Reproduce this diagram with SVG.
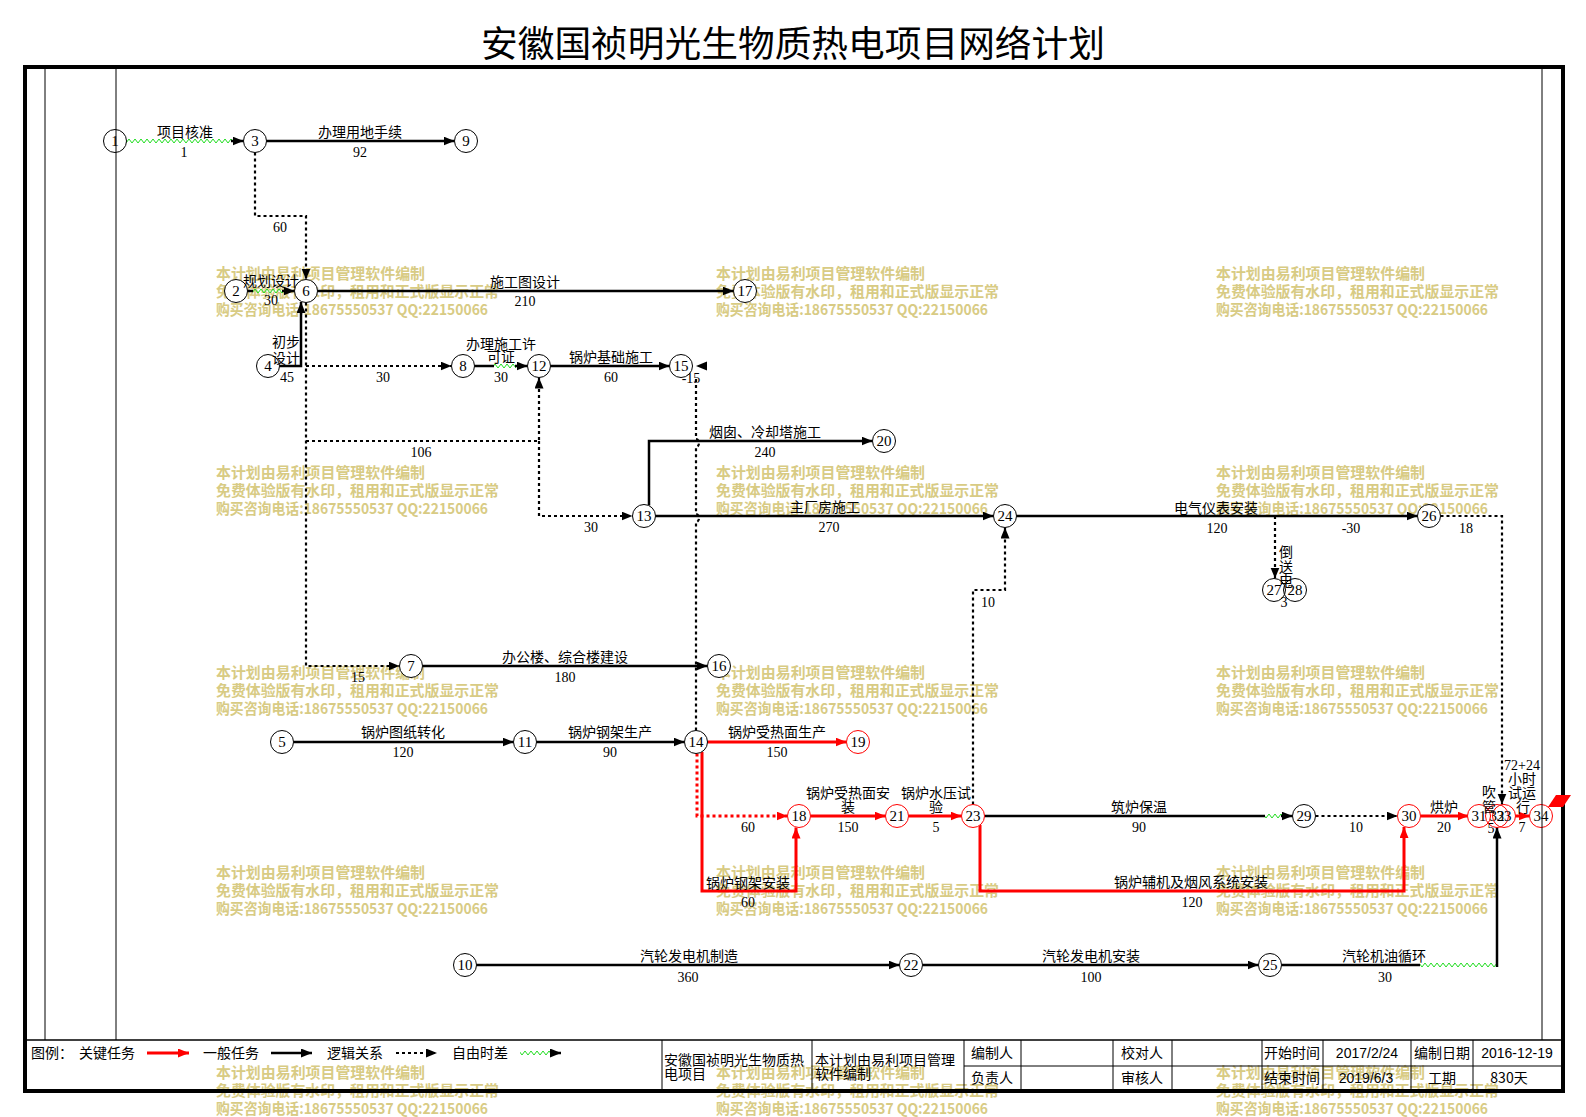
<svg xmlns="http://www.w3.org/2000/svg" width="1586" height="1117" viewBox="0 0 1586 1117">
<defs>
<style>
text{font-family:"Noto Sans CJK SC","Noto Sans CJK JP",sans-serif;}
.t{font-size:14px;text-anchor:middle;fill:#000}
.n{font-family:"Liberation Serif",serif;font-size:14px;text-anchor:middle;fill:#000}
.wm{font-size:15px;font-weight:bold;fill:#d8cb84}
.nd circle{fill:#fff;stroke:#000;stroke-width:1}
.cr circle{stroke:#f00}
.nd text{font-family:"Liberation Serif",serif;font-size:15px;text-anchor:middle;fill:#000}
.s{fill:none;stroke:#000;stroke-width:2.5}
.r{fill:none;stroke:#f00;stroke-width:3}
.d{fill:none;stroke:#000;stroke-width:2.2;stroke-dasharray:3 3}
.rd{fill:none;stroke:#f00;stroke-width:3;stroke-dasharray:3 3}
.ab{marker-end:url(#ab)}
.ar{marker-end:url(#ar)}
.tb{font-size:14px;fill:#000}
.dt{font-family:"Liberation Sans",sans-serif;font-size:14px;fill:#000;text-anchor:middle}
.fr{fill:none;stroke:#000}
.zz{fill:url(#zz)}
</style>
<marker id="ab" markerUnits="userSpaceOnUse" markerWidth="12" markerHeight="10" refX="11" refY="4.5" orient="auto"><path d="M0,0L11,4.5L0,9z" fill="#000"/></marker>
<marker id="ar" markerUnits="userSpaceOnUse" markerWidth="12" markerHeight="10" refX="11" refY="4.5" orient="auto"><path d="M0,0L11,4.5L0,9z" fill="#f00"/></marker>
<pattern id="zz" patternUnits="userSpaceOnUse" x="0" y="-4" width="6" height="8"><polyline points="0,6 3,2 6,6" fill="none" stroke="#1edc1e" stroke-width="1"/></pattern>
</defs>
<rect width="1586" height="1117" fill="#fff"/>

<g id="watermark" class="wm">
<text x="216" y="279" textLength="209" lengthAdjust="spacingAndGlyphs">本计划由易利项目管理软件编制</text>
<text x="216" y="297" textLength="283" lengthAdjust="spacingAndGlyphs">免费体验版有水印，租用和正式版显示正常</text>
<text x="216" y="315" textLength="272" lengthAdjust="spacingAndGlyphs">购买咨询电话:18675550537 QQ:22150066</text>
<text x="716" y="279" textLength="209" lengthAdjust="spacingAndGlyphs">本计划由易利项目管理软件编制</text>
<text x="716" y="297" textLength="283" lengthAdjust="spacingAndGlyphs">免费体验版有水印，租用和正式版显示正常</text>
<text x="716" y="315" textLength="272" lengthAdjust="spacingAndGlyphs">购买咨询电话:18675550537 QQ:22150066</text>
<text x="1216" y="279" textLength="209" lengthAdjust="spacingAndGlyphs">本计划由易利项目管理软件编制</text>
<text x="1216" y="297" textLength="283" lengthAdjust="spacingAndGlyphs">免费体验版有水印，租用和正式版显示正常</text>
<text x="1216" y="315" textLength="272" lengthAdjust="spacingAndGlyphs">购买咨询电话:18675550537 QQ:22150066</text>
<text x="216" y="478" textLength="209" lengthAdjust="spacingAndGlyphs">本计划由易利项目管理软件编制</text>
<text x="216" y="496" textLength="283" lengthAdjust="spacingAndGlyphs">免费体验版有水印，租用和正式版显示正常</text>
<text x="216" y="514" textLength="272" lengthAdjust="spacingAndGlyphs">购买咨询电话:18675550537 QQ:22150066</text>
<text x="716" y="478" textLength="209" lengthAdjust="spacingAndGlyphs">本计划由易利项目管理软件编制</text>
<text x="716" y="496" textLength="283" lengthAdjust="spacingAndGlyphs">免费体验版有水印，租用和正式版显示正常</text>
<text x="716" y="514" textLength="272" lengthAdjust="spacingAndGlyphs">购买咨询电话:18675550537 QQ:22150066</text>
<text x="1216" y="478" textLength="209" lengthAdjust="spacingAndGlyphs">本计划由易利项目管理软件编制</text>
<text x="1216" y="496" textLength="283" lengthAdjust="spacingAndGlyphs">免费体验版有水印，租用和正式版显示正常</text>
<text x="1216" y="514" textLength="272" lengthAdjust="spacingAndGlyphs">购买咨询电话:18675550537 QQ:22150066</text>
<text x="216" y="678" textLength="209" lengthAdjust="spacingAndGlyphs">本计划由易利项目管理软件编制</text>
<text x="216" y="696" textLength="283" lengthAdjust="spacingAndGlyphs">免费体验版有水印，租用和正式版显示正常</text>
<text x="216" y="714" textLength="272" lengthAdjust="spacingAndGlyphs">购买咨询电话:18675550537 QQ:22150066</text>
<text x="716" y="678" textLength="209" lengthAdjust="spacingAndGlyphs">本计划由易利项目管理软件编制</text>
<text x="716" y="696" textLength="283" lengthAdjust="spacingAndGlyphs">免费体验版有水印，租用和正式版显示正常</text>
<text x="716" y="714" textLength="272" lengthAdjust="spacingAndGlyphs">购买咨询电话:18675550537 QQ:22150066</text>
<text x="1216" y="678" textLength="209" lengthAdjust="spacingAndGlyphs">本计划由易利项目管理软件编制</text>
<text x="1216" y="696" textLength="283" lengthAdjust="spacingAndGlyphs">免费体验版有水印，租用和正式版显示正常</text>
<text x="1216" y="714" textLength="272" lengthAdjust="spacingAndGlyphs">购买咨询电话:18675550537 QQ:22150066</text>
<text x="216" y="878" textLength="209" lengthAdjust="spacingAndGlyphs">本计划由易利项目管理软件编制</text>
<text x="216" y="896" textLength="283" lengthAdjust="spacingAndGlyphs">免费体验版有水印，租用和正式版显示正常</text>
<text x="216" y="914" textLength="272" lengthAdjust="spacingAndGlyphs">购买咨询电话:18675550537 QQ:22150066</text>
<text x="716" y="878" textLength="209" lengthAdjust="spacingAndGlyphs">本计划由易利项目管理软件编制</text>
<text x="716" y="896" textLength="283" lengthAdjust="spacingAndGlyphs">免费体验版有水印，租用和正式版显示正常</text>
<text x="716" y="914" textLength="272" lengthAdjust="spacingAndGlyphs">购买咨询电话:18675550537 QQ:22150066</text>
<text x="1216" y="878" textLength="209" lengthAdjust="spacingAndGlyphs">本计划由易利项目管理软件编制</text>
<text x="1216" y="896" textLength="283" lengthAdjust="spacingAndGlyphs">免费体验版有水印，租用和正式版显示正常</text>
<text x="1216" y="914" textLength="272" lengthAdjust="spacingAndGlyphs">购买咨询电话:18675550537 QQ:22150066</text>
<text x="216" y="1078" textLength="209" lengthAdjust="spacingAndGlyphs">本计划由易利项目管理软件编制</text>
<text x="216" y="1096" textLength="283" lengthAdjust="spacingAndGlyphs">免费体验版有水印，租用和正式版显示正常</text>
<text x="216" y="1114" textLength="272" lengthAdjust="spacingAndGlyphs">购买咨询电话:18675550537 QQ:22150066</text>
<text x="716" y="1078" textLength="209" lengthAdjust="spacingAndGlyphs">本计划由易利项目管理软件编制</text>
<text x="716" y="1096" textLength="283" lengthAdjust="spacingAndGlyphs">免费体验版有水印，租用和正式版显示正常</text>
<text x="716" y="1114" textLength="272" lengthAdjust="spacingAndGlyphs">购买咨询电话:18675550537 QQ:22150066</text>
<text x="1216" y="1078" textLength="209" lengthAdjust="spacingAndGlyphs">本计划由易利项目管理软件编制</text>
<text x="1216" y="1096" textLength="283" lengthAdjust="spacingAndGlyphs">免费体验版有水印，租用和正式版显示正常</text>
<text x="1216" y="1114" textLength="272" lengthAdjust="spacingAndGlyphs">购买咨询电话:18675550537 QQ:22150066</text>
</g>

<text id="title" x="793" y="57" font-size="36" text-anchor="middle" textLength="624" lengthAdjust="spacingAndGlyphs" fill="#000">安徽国祯明光生物质热电项目网络计划</text>

<g id="connectors">
<!-- 1->3 free float -->
<path class="s" d="M117,141H126" stroke-width="2"/>
<rect class="zz" x="126" y="-4" width="106" height="8" transform="translate(0,141)"/>
<path class="s ab" d="M231,141H243.5"/>
<!-- 3->9 -->
<path class="s ab" d="M266.5,141H454.5"/>
<!-- 3->6 logic -->
<path class="d ab" d="M255,152.5V216H306V279.5"/>
<!-- 2->6 -->
<path class="s" d="M247.5,291H253"/>
<rect class="zz" x="253" y="-4" width="30" height="8" transform="translate(0,291)"/>
<path class="s ab" d="M282,291H294.5"/>
<!-- 6->17 -->
<path class="s ab" d="M317.5,291H733.5"/>
<!-- 4->6 -->
<path class="s ab" d="M279.5,366H301V302"/>
<!-- logic from 6 downward -->
<path class="d ab" d="M306,302.5V666H399.5"/>
<path class="d ab" d="M306,366H451.5"/>
<path class="d ab" d="M306,441H539V377.5"/>
<path class="d ab" d="M539,441V516H632.5"/>
<!-- 8->12 -->
<path class="s" d="M474.5,366H494"/>
<rect class="zz" x="494" y="-4" width="22" height="8" transform="translate(0,366)"/>
<path class="s ab" d="M515,366H527.5"/>
<!-- 12->15 -->
<path class="s ab" d="M550.5,366H669.5"/>
<!-- 14->15 logic (negative) -->
<path class="d" d="M696,730.5V522a3,4 0 0 0 0,-8V447a3,4 0 0 0 0,-8V378"/>
<polygon points="696,366 707,361.5 707,370.5" fill="#000"/>
<!-- 13->20 -->
<path class="s ab" d="M649,505.5V441H872.5"/>
<!-- 13->24 -->
<path class="s ab" d="M655.5,516H993.5"/>
<!-- 24->26 -->
<path class="s ab" d="M1016.5,516H1417.5"/>
<!-- 23->24 logic -->
<path class="d ab" d="M973,804.5V590H1005V527.5"/>
<!-- to 27 -->
<path class="d ab" d="M1275,516V578.5"/>
<!-- 26->33 logic -->
<path class="d ab" d="M1440.5,516H1502V804.5"/>
<!-- 7->16 -->
<path class="s ab" d="M422.5,666H707.5"/>
<!-- 5->11 -->
<path class="s ab" d="M293.5,742H513.5"/>
<!-- 11->14 -->
<path class="s ab" d="M536.5,742H684.5"/>
<!-- critical -->
<path class="r ar" d="M707.5,742H846.5"/>
<path class="r ar" d="M702,752V891H796V827.5"/>
<path class="rd ar" d="M697,753.5V816H787.5"/>
<path class="r ar" d="M810.5,816H885.5"/>
<path class="r ar" d="M908.5,816H961.5"/>
<path class="r ar" d="M980,825V891H1404V827"/>
<!-- 23->29 -->
<path class="s" d="M984.5,816H1265"/>
<rect class="zz" x="1265" y="-4" width="17" height="8" transform="translate(0,816)"/>
<path class="s ab" d="M1281,816H1292.5"/>
<!-- 29->30 logic -->
<path class="d ab" d="M1315.5,816H1397.5"/>
<path class="r ar" d="M1420.5,816H1468.5"/>
<path class="r ar" d="M1482,816H1491"/>
<path class="r ar" d="M1515.5,816H1529.5"/>
<!-- 10->22->25->32 -->
<path class="s ab" d="M476.5,965H899.5"/>
<path class="s ab" d="M922.5,965H1258.5"/>
<path class="s" d="M1281.5,965H1420"/>
<rect class="zz" x="1420" y="-4" width="77" height="8" transform="translate(0,965)"/>
<path class="s ab" d="M1497,967V827.5" stroke-width="2"/>
</g>

<g id="nodes">
<g id="n1" class="nd"><circle cx="115" cy="141" r="11.5"/><text x="115" y="146">1</text></g>
<g id="n3" class="nd"><circle cx="255" cy="141" r="11.5"/><text x="255" y="146">3</text></g>
<g id="n9" class="nd"><circle cx="466" cy="141" r="11.5"/><text x="466" y="146">9</text></g>
<g id="n2" class="nd"><circle cx="236" cy="291" r="11.5"/><text x="236" y="296">2</text></g>
<g id="n6" class="nd"><circle cx="306" cy="291" r="11.5"/><text x="306" y="296">6</text></g>
<g id="n17" class="nd"><circle cx="745" cy="291" r="11.5"/><text x="745" y="296">17</text></g>
<g id="n4" class="nd"><circle cx="268" cy="366" r="11.5"/><text x="268" y="371">4</text></g>
<g id="n8" class="nd"><circle cx="463" cy="366" r="11.5"/><text x="463" y="371">8</text></g>
<g id="n12" class="nd"><circle cx="539" cy="366" r="11.5"/><text x="539" y="371">12</text></g>
<g id="n15" class="nd"><circle cx="681" cy="366" r="11.5"/><text x="681" y="371">15</text></g>
<g id="n20" class="nd"><circle cx="884" cy="441" r="11.5"/><text x="884" y="446">20</text></g>
<g id="n13" class="nd"><circle cx="644" cy="516" r="11.5"/><text x="644" y="521">13</text></g>
<g id="n24" class="nd"><circle cx="1005" cy="516" r="11.5"/><text x="1005" y="521">24</text></g>
<g id="n26" class="nd"><circle cx="1429" cy="516" r="11.5"/><text x="1429" y="521">26</text></g>
<g id="n27" class="nd"><circle cx="1274" cy="590" r="11.5"/><text x="1274" y="595">27</text></g>
<g id="n28" class="nd"><circle cx="1295" cy="590" r="11.5" fill="none" style="fill:none"/><text x="1295" y="595">28</text></g>
<g id="n7" class="nd"><circle cx="411" cy="666" r="11.5"/><text x="411" y="671">7</text></g>
<g id="n16" class="nd"><circle cx="719" cy="666" r="11.5"/><text x="719" y="671">16</text></g>
<g id="n5" class="nd"><circle cx="282" cy="742" r="11.5"/><text x="282" y="747">5</text></g>
<g id="n11" class="nd"><circle cx="525" cy="742" r="11.5"/><text x="525" y="747">11</text></g>
<g id="n14" class="nd"><circle cx="696" cy="742" r="11.5"/><text x="696" y="747">14</text></g>
<g id="n19" class="nd cr"><circle cx="858" cy="742" r="11.5"/><text x="858" y="747">19</text></g>
<g id="n18" class="nd cr"><circle cx="799" cy="816" r="11.5"/><text x="799" y="821">18</text></g>
<g id="n21" class="nd cr"><circle cx="897" cy="816" r="11.5"/><text x="897" y="821">21</text></g>
<g id="n23" class="nd cr"><circle cx="973" cy="816" r="11.5"/><text x="973" y="821">23</text></g>
<g id="n29" class="nd"><circle cx="1304" cy="816" r="11.5"/><text x="1304" y="821">29</text></g>
<g id="n30" class="nd cr"><circle cx="1409" cy="816" r="11.5"/><text x="1409" y="821">30</text></g>
<g id="n31" class="nd cr"><circle cx="1479" cy="816" r="11.5"/><text x="1479" y="821">31</text></g>
<g id="n32" class="nd cr"><circle cx="1497" cy="816" r="11.5" style="fill:none"/><text x="1497" y="821">32</text></g>
<g id="n33" class="nd cr"><circle cx="1504" cy="816" r="11.5" style="fill:none"/><text x="1504" y="821">33</text></g>
<g id="n34" class="nd cr"><circle cx="1541" cy="816" r="11.5"/><text x="1541" y="821">34</text></g>
<g id="n10" class="nd"><circle cx="465" cy="965" r="11.5"/><text x="465" y="970">10</text></g>
<g id="n22" class="nd"><circle cx="911" cy="965" r="11.5"/><text x="911" y="970">22</text></g>
<g id="n25" class="nd"><circle cx="1270" cy="965" r="11.5"/><text x="1270" y="970">25</text></g>
</g>

<g id="labels">
<text class="t" x="185" y="137">项目核准</text>
<text class="t" x="360" y="137">办理用地手续</text>
<text class="t" x="271" y="286">规划设计</text>
<text class="t" x="525" y="287">施工图设计</text>
<text class="t" x="286" y="347">初步</text>
<text class="t" x="286" y="363">设计</text>
<text class="t" x="501" y="349">办理施工许</text>
<text class="t" x="501" y="362">可证</text>
<text class="t" x="611" y="362">锅炉基础施工</text>
<text class="t" x="765" y="437">烟囱、冷却塔施工</text>
<text class="t" x="825" y="512">主厂房施工</text>
<text class="t" x="1216" y="513">电气仪表安装</text>
<text class="t" x="1286" y="557">倒</text>
<text class="t" x="1286" y="572">送</text>
<text class="t" x="1286" y="586">电</text>
<text class="t" x="565" y="662">办公楼、综合楼建设</text>
<text class="t" x="403" y="737">锅炉图纸转化</text>
<text class="t" x="610" y="737">锅炉钢架生产</text>
<text class="t" x="777" y="737">锅炉受热面生产</text>
<text class="t" x="848" y="798">锅炉受热面安</text>
<text class="t" x="848" y="812">装</text>
<text class="t" x="936" y="798">锅炉水压试</text>
<text class="t" x="936" y="812">验</text>
<text class="t" x="748" y="888">锅炉钢架安装</text>
<text class="t" x="1139" y="812">筑炉保温</text>
<text class="t" x="1444" y="812">烘炉</text>
<text class="t" x="1191" y="887">锅炉辅机及烟风系统安装</text>
<text class="t" x="1489" y="797">吹</text>
<text class="t" x="1489" y="812">管</text>
<text class="n" x="1522" y="770">72+24</text>
<text class="t" x="1522" y="784">小时</text>
<text class="t" x="1522" y="798">试运</text>
<text class="t" x="1523" y="812">行</text>
<text class="t" x="689" y="961">汽轮发电机制造</text>
<text class="t" x="1091" y="961">汽轮发电机安装</text>
<text class="t" x="1384" y="961">汽轮机油循环</text>
<text class="n" x="184" y="157">1</text>
<text class="n" x="360" y="157">92</text>
<text class="n" x="280" y="232">60</text>
<text class="n" x="271" y="305">30</text>
<text class="n" x="525" y="306">210</text>
<text class="n" x="287" y="382">45</text>
<text class="n" x="383" y="382">30</text>
<text class="n" x="501" y="382">30</text>
<text class="n" x="611" y="382">60</text>
<text class="n" x="691" y="383">-15</text>
<text class="n" x="421" y="457">106</text>
<text class="n" x="765" y="457">240</text>
<text class="n" x="591" y="532">30</text>
<text class="n" x="829" y="532">270</text>
<text class="n" x="1217" y="533">120</text>
<text class="n" x="1351" y="533">-30</text>
<text class="n" x="1466" y="533">18</text>
<text class="n" x="1284" y="607">3</text>
<text class="n" x="988" y="607">10</text>
<text class="n" x="358" y="682">15</text>
<text class="n" x="565" y="682">180</text>
<text class="n" x="403" y="757">120</text>
<text class="n" x="610" y="757">90</text>
<text class="n" x="777" y="757">150</text>
<text class="n" x="748" y="832">60</text>
<text class="n" x="848" y="832">150</text>
<text class="n" x="936" y="832">5</text>
<text class="n" x="748" y="907">60</text>
<text class="n" x="1139" y="832">90</text>
<text class="n" x="1356" y="832">10</text>
<text class="n" x="1444" y="832">20</text>
<text class="n" x="1192" y="907">120</text>
<text class="n" x="1491" y="833">5</text>
<text class="n" x="1522" y="832">7</text>
<text class="n" x="688" y="982">360</text>
<text class="n" x="1091" y="982">100</text>
<text class="n" x="1385" y="982">30</text>
</g>

<g id="frame" class="fr">
<rect x="25" y="67" width="1538" height="1024" stroke-width="4"/>
<path d="M45,67V1040M116,67V1040M1542,67V1040" stroke-width="1"/>
<path d="M25,1040H1563" stroke-width="1.5"/>
</g>
<polygon id="flag" points="1548,807 1556,795 1571,795 1563,807" fill="#f00"/>

<g id="legend">
<text class="tb" x="31" y="1058">图例：</text>
<text class="tb" x="79" y="1058">关键任务</text>
<path class="r ar" d="M147,1053H189" stroke-width="3.5"/>
<text class="tb" x="203" y="1058">一般任务</text>
<path class="s ab" d="M271,1053H312"/>
<text class="tb" x="327" y="1058">逻辑关系</text>
<path class="d ab" d="M396,1053H437"/>
<text class="tb" x="452" y="1058">自由时差</text>
<rect class="zz" x="520" y="-4" width="31" height="8" transform="translate(0,1053)"/>
<path class="s ab" d="M550,1053H561"/>
</g>

<g id="table">
<path class="fr" stroke-width="1" d="M662,1040V1091M812,1040V1091M964,1040V1091M1021,1040V1091M1113,1040V1091M1172,1040V1091M1262,1040V1091M1323,1040V1091M1411,1040V1091M1473,1040V1091M964,1066H1563"/>
<text class="tb" x="664" y="1065">安徽国祯明光生物质热</text>
<text class="tb" x="664" y="1079">电项目</text>
<text class="tb" x="815" y="1065">本计划由易利项目管理</text>
<text class="tb" x="815" y="1079">软件编制</text>
<text class="tb" x="992" y="1058" text-anchor="middle">编制人</text>
<text class="tb" x="992" y="1083" text-anchor="middle">负责人</text>
<text class="tb" x="1142" y="1058" text-anchor="middle">校对人</text>
<text class="tb" x="1142" y="1083" text-anchor="middle">审核人</text>
<text class="tb" x="1292" y="1058" text-anchor="middle">开始时间</text>
<text class="tb" x="1292" y="1083" text-anchor="middle">结束时间</text>
<text class="dt" x="1367" y="1058">2017/2/24</text>
<text class="dt" x="1366" y="1083">2019/6/3</text>
<text class="tb" x="1442" y="1058" text-anchor="middle">编制日期</text>
<text class="tb" x="1442" y="1083" text-anchor="middle">工期</text>
<text class="dt" x="1517" y="1058">2016-12-19</text>
<text class="tb" x="1509" y="1083" text-anchor="middle">830天</text>
</g>
</svg>
